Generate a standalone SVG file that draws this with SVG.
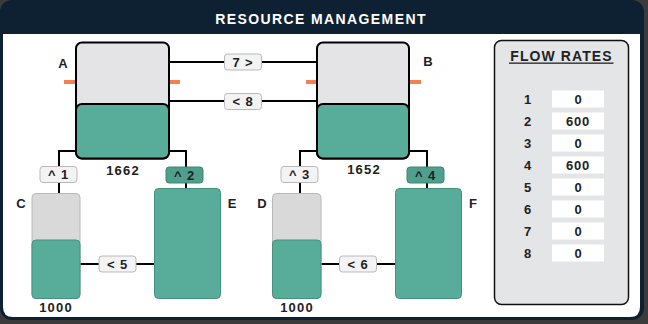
<svg xmlns="http://www.w3.org/2000/svg" width="648" height="324" viewBox="0 0 648 324">
  <style>
    text { font-family: "Liberation Sans", Arial, sans-serif; font-weight: bold; fill: #222; }
    .title { fill: #fff; font-size: 14px; letter-spacing: 1.4px; text-anchor: middle; }
    .name { font-size: 13px; text-anchor: middle; }
    .amount { font-size: 13px; letter-spacing: 1.2px; text-anchor: middle; }
    .tag { font-size: 13px; letter-spacing: 0.8px; text-anchor: middle; }
    .wire { fill: none; stroke: #000; stroke-width: 2; }
    .tag-box { fill: #f3f3f3; stroke: #b9b9b9; stroke-width: 1; }
    .tag-box-on { fill: #4f9f8c; stroke: #3f8776; stroke-width: 1; }
    .tank-top { fill: #e4e4e6; stroke: #000; stroke-width: 2; }
    .tank-fill { fill: #57ad9a; stroke: #000; stroke-width: 2; }
    .store-empty { fill: #d9d9d9; stroke: #b8b8b8; stroke-width: 1; }
    .store-fill { fill: #57ad9a; stroke: #47917f; stroke-width: 1; }
    .port { fill: #f4804f; }
    .rate-box { fill: #fff; }
    .rate { font-size: 13px; text-anchor: middle; }
  </style>

  <!-- window frame -->
  <rect x="0" y="0" width="648" height="324" fill="#3b3b3b"/>
  <rect x="0" y="0" width="644" height="320" rx="12" fill="#0d2133"/>
  <path d="M3,34 H640 V307 Q640,317 630,317 H13 Q3,317 3,307 Z" fill="#fff"/>
  <text class="title" x="321" y="23.5">RESOURCE MANAGEMENT</text>

  <!-- connectors -->
  <g id="connectors">
    <path class="wire" d="M169,62 H317"/>
    <path class="wire" d="M169,101 H317"/>
    <path class="wire" d="M76,151 H59 V193"/>
    <path class="wire" d="M169,151 H186 V188"/>
    <path class="wire" d="M317,151 H300 V193"/>
    <path class="wire" d="M409,151 H427 V188"/>
    <path class="wire" d="M80,264 H154"/>
    <path class="wire" d="M321,264 H396"/>

    <g id="flow-7">
      <rect class="tag-box" x="224.5" y="54" width="37" height="16" rx="3"/>
      <text class="tag" x="243" y="66.5">7 &gt;</text>
    </g>
    <g id="flow-8">
      <rect class="tag-box" x="224.5" y="93.5" width="37" height="16" rx="3"/>
      <text class="tag" x="243" y="106">&lt; 8</text>
    </g>
    <g id="flow-1">
      <rect class="tag-box" x="40" y="166.5" width="37" height="16" rx="3"/>
      <text class="tag" x="58.5" y="179">^ 1</text>
    </g>
    <g id="flow-2">
      <rect class="tag-box-on" x="166" y="167" width="37" height="16" rx="3"/>
      <text class="tag" x="184.5" y="179.5">^ 2</text>
    </g>
    <g id="flow-3">
      <rect class="tag-box" x="281" y="166.5" width="37" height="16" rx="3"/>
      <text class="tag" x="299.5" y="179">^ 3</text>
    </g>
    <g id="flow-4">
      <rect class="tag-box-on" x="407" y="167" width="37" height="16" rx="3"/>
      <text class="tag" x="425.5" y="179.5">^ 4</text>
    </g>
    <g id="flow-5">
      <rect class="tag-box" x="99" y="256" width="37" height="16" rx="3"/>
      <text class="tag" x="117.5" y="268.5">&lt; 5</text>
    </g>
    <g id="flow-6">
      <rect class="tag-box" x="339.5" y="256" width="37" height="16" rx="3"/>
      <text class="tag" x="358" y="268.5">&lt; 6</text>
    </g>
  </g>

  <!-- tank A -->
  <g id="tank-a">
    <rect class="port" x="64" y="80" width="12" height="4"/>
    <rect class="port" x="169" y="80" width="11" height="4"/>
    <rect class="tank-top" x="76" y="42.5" width="93" height="116" rx="6"/>
    <rect class="tank-fill" x="76" y="104" width="93" height="54.5" rx="6"/>
    <text class="name" x="63" y="68">A</text>
    <text class="amount" x="123" y="175">1662</text>
  </g>

  <!-- tank B -->
  <g id="tank-b">
    <rect class="port" x="306" y="80" width="11" height="4"/>
    <rect class="port" x="409" y="80" width="12" height="4"/>
    <rect class="tank-top" x="317" y="42.5" width="92" height="116" rx="6"/>
    <rect class="tank-fill" x="317" y="104" width="92" height="54.5" rx="6"/>
    <text class="name" x="428" y="66">B</text>
    <text class="amount" x="364" y="174">1652</text>
  </g>

  <!-- store C -->
  <g id="store-c">
    <rect class="store-empty" x="32" y="193.5" width="48" height="105" rx="4"/>
    <rect class="store-fill" x="32" y="240" width="48" height="58.5" rx="4"/>
    <text class="name" x="21" y="208">C</text>
    <text class="amount" x="56" y="312">1000</text>
  </g>

  <!-- store D -->
  <g id="store-d">
    <rect class="store-empty" x="272.5" y="193.5" width="48.5" height="105" rx="4"/>
    <rect class="store-fill" x="272.5" y="240" width="48.5" height="58.5" rx="4"/>
    <text class="name" x="262" y="208">D</text>
    <text class="amount" x="297" y="312">1000</text>
  </g>

  <!-- store E -->
  <g id="store-e">
    <rect class="store-fill" x="154.5" y="188.5" width="66" height="110" rx="4"/>
    <text class="name" x="232" y="208">E</text>
  </g>

  <!-- store F -->
  <g id="store-f">
    <rect class="store-fill" x="395.5" y="188.5" width="66" height="110" rx="4"/>
    <text class="name" x="473" y="208">F</text>
  </g>

  <!-- flow rate table -->
  <g id="flow-rates">
    <rect x="494.5" y="40.5" width="134" height="264" rx="7" fill="#e4e5e7" stroke="#111" stroke-width="1.5"/>
    <text class="name" x="561.5" y="61" style="font-size:14px;letter-spacing:1.1px">FLOW RATES</text>
    <rect x="509" y="62.5" width="104.5" height="1.3" fill="#222"/>
    <g>
      <rect class="rate-box" x="552" y="90.5" width="52" height="17"/>
      <rect class="rate-box" x="552" y="112.5" width="52" height="17"/>
      <rect class="rate-box" x="552" y="134.5" width="52" height="17"/>
      <rect class="rate-box" x="552" y="156.5" width="52" height="17"/>
      <rect class="rate-box" x="552" y="178.5" width="52" height="17"/>
      <rect class="rate-box" x="552" y="200.5" width="52" height="17"/>
      <rect class="rate-box" x="552" y="222.5" width="52" height="17"/>
      <rect class="rate-box" x="552" y="244.5" width="52" height="17"/>
    </g>
    <g>
      <text class="rate" x="527.5" y="104">1</text>
      <text class="rate" x="527.5" y="126">2</text>
      <text class="rate" x="527.5" y="148">3</text>
      <text class="rate" x="527.5" y="170">4</text>
      <text class="rate" x="527.5" y="192">5</text>
      <text class="rate" x="527.5" y="214">6</text>
      <text class="rate" x="527.5" y="236">7</text>
      <text class="rate" x="527.5" y="258">8</text>
    </g>
    <g>
      <text class="rate" x="578" y="104">0</text>
      <text class="rate" x="578" y="126" style="letter-spacing:0.8px">600</text>
      <text class="rate" x="578" y="148">0</text>
      <text class="rate" x="578" y="170" style="letter-spacing:0.8px">600</text>
      <text class="rate" x="578" y="192">0</text>
      <text class="rate" x="578" y="214">0</text>
      <text class="rate" x="578" y="236">0</text>
      <text class="rate" x="578" y="258">0</text>
    </g>
  </g>
</svg>
